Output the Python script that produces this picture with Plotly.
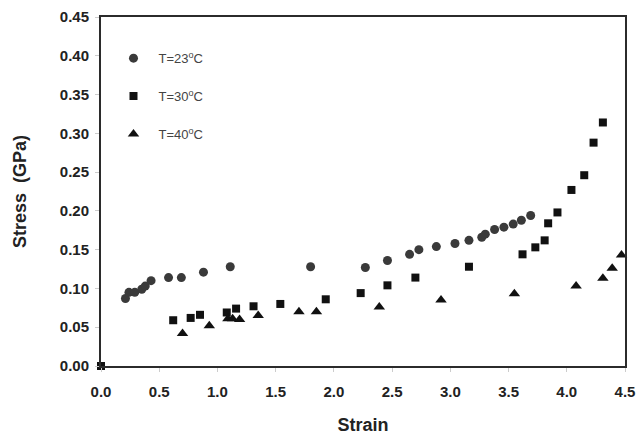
import plotly.graph_objects as go

# Stress-strain data at three temperatures
strain_23 = [0.21, 0.24, 0.29, 0.35, 0.38, 0.43, 0.58, 0.69, 0.88, 1.11, 1.80,
             2.27, 2.46, 2.65, 2.73, 2.88, 3.04, 3.16, 3.27, 3.30, 3.38, 3.46,
             3.54, 3.61, 3.69]
stress_23 = [0.087, 0.095, 0.095, 0.099, 0.103, 0.110, 0.114, 0.114, 0.121, 0.128, 0.128,
             0.127, 0.136, 0.144, 0.150, 0.154, 0.158, 0.162, 0.166, 0.170, 0.176, 0.179,
             0.183, 0.188, 0.194]

strain_30 = [0.0, 0.62, 0.77, 0.85, 1.08, 1.16, 1.31, 1.54, 1.93, 2.23, 2.46, 2.70,
             3.16, 3.62, 3.73, 3.81, 3.84, 3.92, 4.04, 4.15, 4.23, 4.31]
stress_30 = [0.0, 0.059, 0.062, 0.066, 0.069, 0.074, 0.077, 0.080, 0.086, 0.094, 0.104, 0.114,
             0.128, 0.144, 0.153, 0.162, 0.184, 0.198, 0.227, 0.246, 0.288, 0.314]

strain_40 = [0.70, 0.93, 1.09, 1.13, 1.19, 1.35, 1.70, 1.85, 2.39, 2.92, 3.55, 4.08,
             4.31, 4.39, 4.47]
stress_40 = [0.042, 0.052, 0.061, 0.061, 0.060, 0.065, 0.070, 0.070, 0.076, 0.085, 0.093, 0.103,
             0.113, 0.126, 0.143]

x_ticks = [0.0, 0.5, 1.0, 1.5, 2.0, 2.5, 3.0, 3.5, 4.0, 4.5]
y_ticks = [0.00, 0.05, 0.10, 0.15, 0.20, 0.25, 0.30, 0.35, 0.40, 0.45]

series = [
    ("T=23<sup>o</sup>C", strain_23, stress_23, "circle", "#3a3a3a", 9),
    ("T=30<sup>o</sup>C", strain_30, stress_30, "square", "#111111", 8),
    ("T=40<sup>o</sup>C", strain_40, stress_40, "triangle-up", "#111111", 10),
]

fig = go.Figure()
for i, (name, xs, ys, sym, col, sz) in enumerate(series):
    fig.add_trace(go.Scatter(
        x=xs, y=ys, mode="markers", name=name, legendgroup=f"g{i}",
        marker=dict(symbol=sym, color=col, size=sz, line=dict(width=0)),
        cliponaxis=False,
    ))

axis_common = dict(
    showline=True, linecolor="#2b2b2b", linewidth=2, mirror=True,
    showgrid=False, zeroline=False, automargin=False,
    ticks="outside", ticklen=4, tickcolor="#cccccc", tickwidth=1,
    tickfont=dict(family="Liberation Sans, Arial", size=15, color="#222222", weight="bold"),
)

fig.update_layout(
    width=638, height=435,
    margin=dict(l=101, r=13, t=17, b=69),
    paper_bgcolor="white", plot_bgcolor="white",
    font=dict(family="Liberation Sans, Arial", color="#222222"),
    xaxis=dict(
        range=[0, 4.5], tickvals=x_ticks, ticktext=[f"{v:.1f}" for v in x_ticks],
        ticklabelstandoff=7,
        title=dict(text="Strain", font=dict(size=18, weight="bold", color="#222222"), standoff=22),
        **axis_common,
    ),
    yaxis=dict(
        range=[0, 0.45], tickvals=y_ticks, ticktext=[f"{v:.2f}" for v in y_ticks],
        ticklabelstandoff=3,
        title=dict(text="Stress  (GPa)", font=dict(size=18, weight="bold", color="#222222"), standoff=28),
        **axis_common,
    ),
    legend=dict(
        x=0.0143, y=0.925, xanchor="left", yanchor="top",
        bgcolor="rgba(0,0,0,0)", borderwidth=0,
        font=dict(family="Liberation Sans, Arial", size=13, color="#444444"),
        tracegroupgap=18, itemwidth=40,
    ),
    showlegend=True,
)

fig.write_html("out.html")
